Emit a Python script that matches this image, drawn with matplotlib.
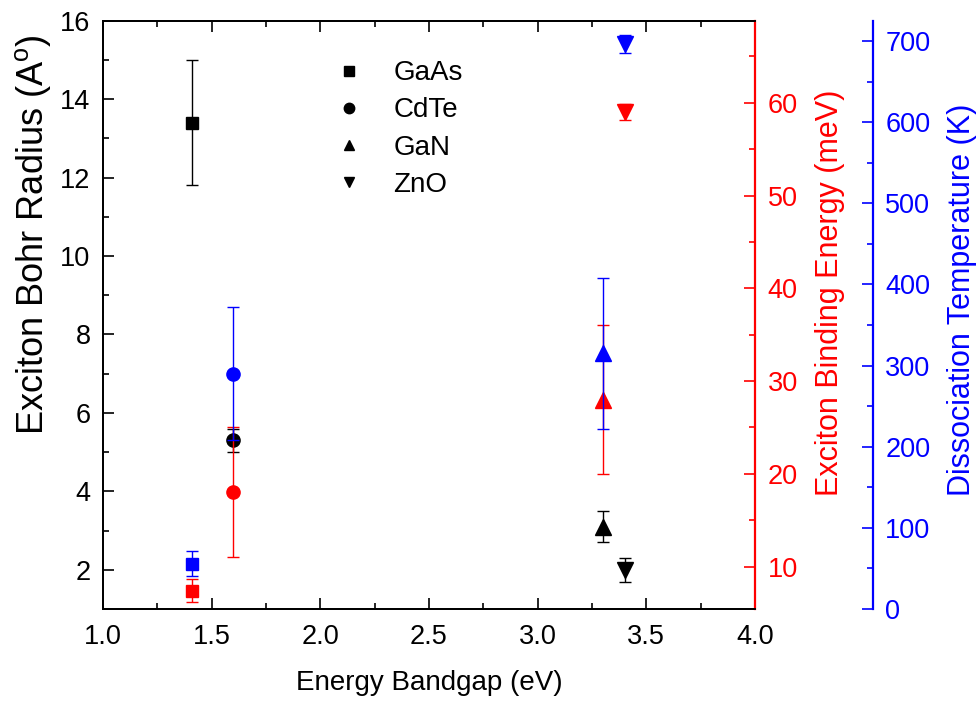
import numpy as np
import matplotlib
matplotlib.use("Agg")
import matplotlib.pyplot as plt
from matplotlib.lines import Line2D
from matplotlib.ticker import MultipleLocator

plt.rcParams["font.family"] = ["Liberation Sans", "DejaVu Sans"]
plt.rcParams["mathtext.default"] = "regular"

materials = ["GaAs", "CdTe", "GaN", "ZnO"]
markers = ["s", "o", "^", "v"]
msizes = [9, 9.5, 11, 11]
bandgap = [1.41, 1.60, 3.30, 3.40]

# Exciton Bohr radius (left axis)
radius = [13.4, 5.3, 3.1, 2.0]
radius_err = [1.6, 0.3, 0.4, 0.3]

# exciton binding energy, meV (red axis)
binding = [7.4, 18.0, 28.0, 59.0]
binding_err = [1.25, 7.0, 8.0, 0.9]

# dissociation temperature, K (blue axis)
temp = [56, 290, 315, 696]
temp_err = [15, 82, 93, 11]

fs = 19.5   # tick labels
lfs = 22    # right y axis titles

fig = plt.figure(figsize=(9.8, 7.03), dpi=100)
ax = fig.add_axes([0.1051, 0.1337, 0.6653, 0.8369])
ax2 = ax.twinx()
ax3 = ax.twinx()
ax3.spines["right"].set_position(("axes", 1.1805))

for i in range(len(materials)):
    ax.errorbar(bandgap[i], radius[i], yerr=radius_err[i], fmt=markers[i],
                color="black", ms=msizes[i], capsize=4.2, elinewidth=1, capthick=1)
    ax2.errorbar(bandgap[i], binding[i], yerr=binding_err[i], fmt=markers[i],
                 color="red", ms=msizes[i], capsize=4.2, elinewidth=1, capthick=1)
    ax3.errorbar(bandgap[i], temp[i], yerr=temp_err[i], fmt=markers[i],
                 color="blue", ms=msizes[i], capsize=4.2, elinewidth=1, capthick=1)

# axes ranges and ticks
ax.set_xlim(1.0, 4.0)
ax.set_ylim(1.0, 16.0)
ax.xaxis.set_major_locator(MultipleLocator(0.5))
ax.xaxis.set_minor_locator(MultipleLocator(0.25))
ax.yaxis.set_major_locator(MultipleLocator(2))
ax.yaxis.set_minor_locator(MultipleLocator(1))
ax.set_xticks(np.arange(1.0, 4.01, 0.5))
ax.set_xticklabels(["%.1f" % v for v in np.arange(1.0, 4.01, 0.5)])
ax.tick_params(which="both", direction="in", top=True, right=False, width=1.2,
               labelsize=fs, pad=9)
ax.tick_params(axis="x", pad=11)
ax.tick_params(which="major", length=8)
ax.tick_params(which="minor", length=4.5)

ax2.set_ylim(5.44, 68.84)
ax2.yaxis.set_major_locator(MultipleLocator(10))
ax2.yaxis.set_minor_locator(MultipleLocator(5))
ax2.tick_params(which="both", direction="in", colors="red", width=1.2,
                labelsize=fs, pad=9)
ax2.tick_params(which="major", length=8)
ax2.tick_params(which="minor", length=4.5)
ax2.spines["right"].set_color("red")

ax3.set_ylim(0, 725)
ax3.yaxis.set_major_locator(MultipleLocator(100))
ax3.yaxis.set_minor_locator(MultipleLocator(50))
ax3.tick_params(which="both", direction="in", colors="blue", width=1.2,
                labelsize=fs, pad=9)
ax3.tick_params(which="major", length=8)
ax3.tick_params(which="minor", length=4.5)
ax3.spines["right"].set_color("blue")

for a in (ax, ax2, ax3):
    for s in a.spines.values():
        s.set_linewidth(1.2)
ax2.spines["right"].set_linewidth(1.6)
ax3.spines["right"].set_linewidth(1.6)

ax.set_xlabel("Energy Bandgap (eV)", fontsize=20, labelpad=14)
ax.set_ylabel("Exciton Bohr Radius (A$^o$)", fontsize=26)
ax.yaxis.set_label_coords(-0.076, 0.637)
ax2.set_ylabel("Exciton Binding Energy (meV)", fontsize=lfs, color="red")
ax2.yaxis.set_label_coords(1.092, 0.538)
ax3.set_ylabel("Dissociation Temperature (K)", fontsize=lfs, color="blue")
ax3.yaxis.set_label_coords(1.2945, 0.525)

handles = [Line2D([], [], ls="none", marker=m, color="black", ms=7.5) for m in markers]
ax.legend(handles, materials, loc="upper left", bbox_to_anchor=(0.296, 0.975),
          frameon=False, fontsize=20, labelspacing=0.4, handletextpad=0.6,
          handlelength=2.0)

plt.savefig("out.png", dpi=100)
